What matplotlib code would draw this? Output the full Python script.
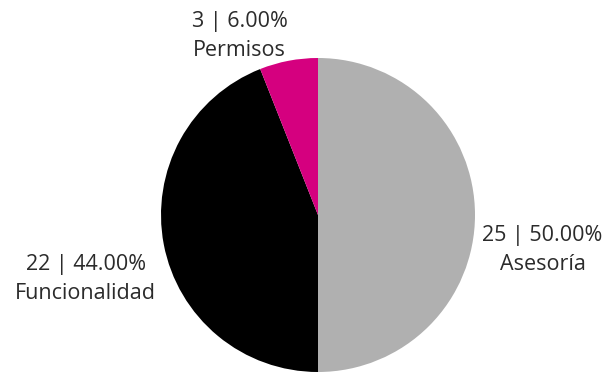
import matplotlib.pyplot as plt

labels = ['Asesoría', 'Funcionalidad', 'Permisos']
counts = [25, 22, 3]
colors = ['#b0b0b0', '#000000', '#d5007f']
# label anchor points, in units of the pie radius
label_pos = [(1.43, -0.22), (-1.48, -0.41), (-0.50, 1.14)]

plt.rcParams['font.family'] = ['Open Sans', 'DejaVu Sans']

fig = plt.figure(figsize=(6.04, 3.73), dpi=100)
ax = fig.add_axes([161 / 604, 1 / 373, 314 / 604, 314 / 373])
ax.pie(counts, colors=colors, startangle=90, counterclock=False,
       radius=1, wedgeprops={'linewidth': 0})
ax.set_xlim(-1, 1)
ax.set_ylim(-1, 1)
ax.set_aspect('auto')
ax.axis('off')

total = sum(counts)
for name, n, (x, y) in zip(labels, counts, label_pos):
    ax.text(x, y, '%d | %.2f%%\n%s' % (n, 100 * n / total, name),
            ha='center', va='center', fontsize=15.5, color='#2b2b2b',
            linespacing=1.5, clip_on=False)

fig.savefig('out.png', dpi=100)
